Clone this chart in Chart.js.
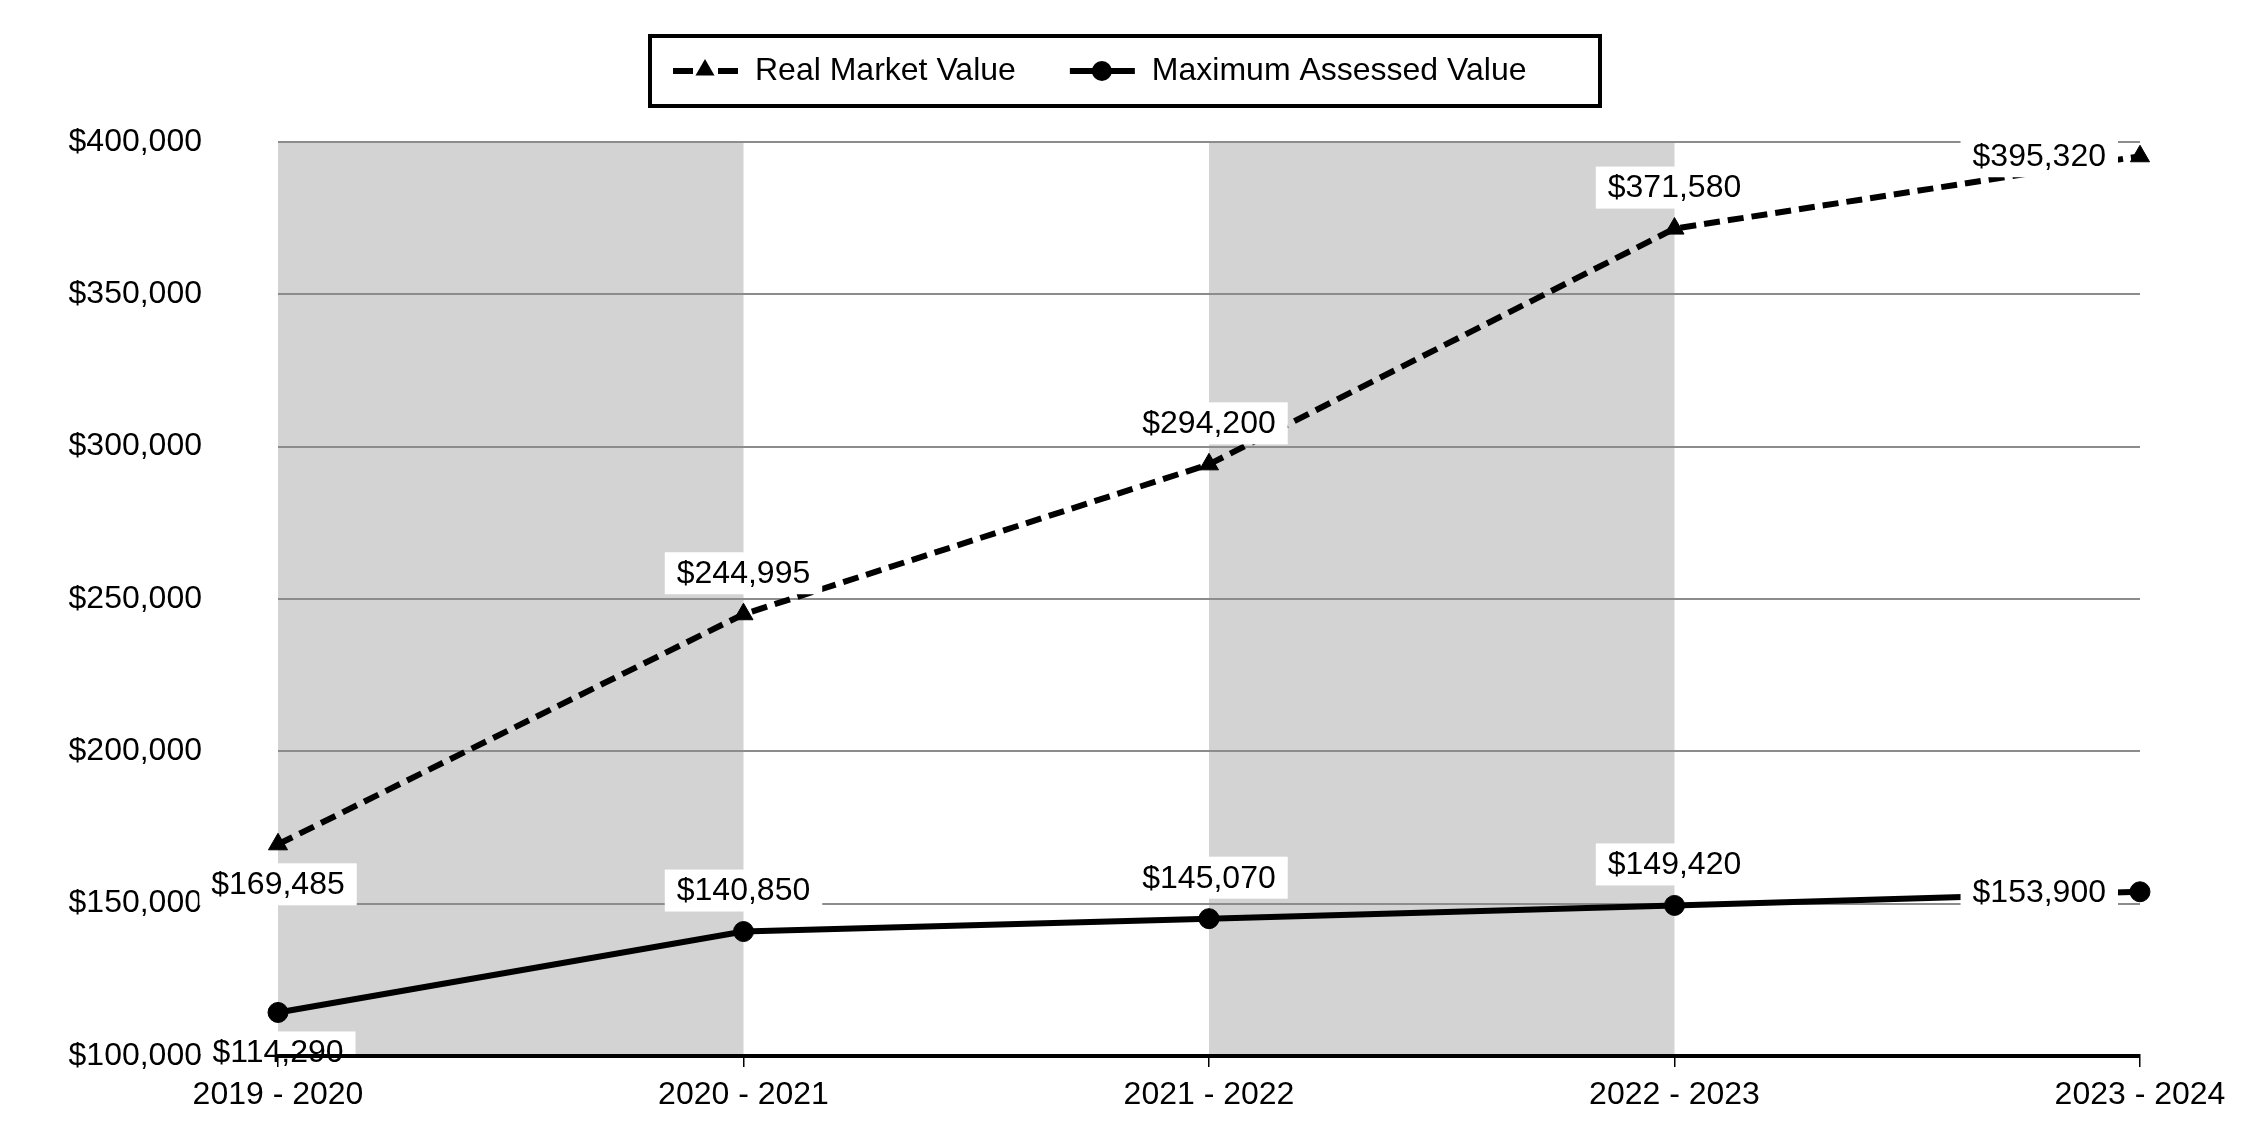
<!DOCTYPE html>
<html lang="en">
<head>
  <meta charset="UTF-8" />
  <title>Real Market Value vs Maximum Assessed Value</title>
  <script src="https://cdn.jsdelivr.net/npm/chart.js"></script>
  <style>
    html, body { margin: 0; padding: 0; background: #fff; }
    #wrap { width: 2250px; height: 1140px; position: relative; }
  </style>
</head>
<body>
<div id="wrap"><canvas id="valueChart"></canvas></div>

<script>
  // --- data ---
  const years = ['2019 - 2020', '2020 - 2021', '2021 - 2022', '2022 - 2023', '2023 - 2024'];
  const realMarketValue = [169485, 244995, 294200, 371580, 395320];
  const maxAssessedValue = [114290, 140850, 145070, 149420, 153900];
  const yTickValues = [100000, 150000, 200000, 250000, 300000, 350000, 400000];

  // where each value label sits relative to its point
  const rmvLabelSide = ['below', 'above', 'above', 'above', 'left'];
  const mavLabelSide = ['below', 'above', 'above', 'above', 'left'];

  const FONT = '"Liberation Sans", Arial, sans-serif';
  Chart.defaults.font.family = FONT;
  Chart.defaults.font.size = 32;
  Chart.defaults.color = '#000';

  const money = v => '$' + v.toLocaleString('en-US');

  // grey band behind every other year interval
  const bandsPlugin = {
    id: 'bands',
    beforeDraw(chart) {
      const { ctx, chartArea, scales: { x } } = chart;
      ctx.save();
      ctx.fillStyle = '#d3d3d3';
      for (let i = 0; i + 1 < years.length; i += 2) {
        const x0 = x.getPixelForValue(i);
        const x1 = x.getPixelForValue(i + 1);
        ctx.fillRect(x0, chartArea.top, x1 - x0, chartArea.bottom - chartArea.top);
      }
      ctx.restore();
    }
  };

  // value labels with white boxes
  const labelSides = [rmvLabelSide, mavLabelSide];
  const valueLabels = {
    id: 'valueLabels',
    afterDatasetsDraw(chart) {
      const { ctx, chartArea } = chart;
      ctx.save();
      ctx.font = '32px ' + FONT;
      ctx.textAlign = 'center';
      ctx.textBaseline = 'middle';
      chart.data.datasets.forEach((ds, di) => {
        const meta = chart.getDatasetMeta(di);
        meta.data.forEach((pt, i) => {
          const text = money(ds.data[i]);
          const w = ctx.measureText(text).width + 24;
          const h = 42;
          let cx = pt.x, cy = pt.y;
          const side = labelSides[di][i];
          if (side === 'above') cy -= 41;
          else if (side === 'below') cy += 40;
          else cx -= 22 + w / 2;
          const top = cy - h / 2;
          const bottom = Math.min(cy + h / 2, chartArea.bottom - 2);
          ctx.fillStyle = '#fff';
          ctx.fillRect(cx - w / 2, top, w, bottom - top);
          ctx.fillStyle = '#000';
          ctx.fillText(text, cx, cy + 1);
        });
      });
      ctx.restore();
    }
  };

  // boxed legend: line sample with marker, then the series name
  function drawMarker(ctx, style, x, y, r) {
    ctx.beginPath();
    if (style === 'triangle') {
      ctx.moveTo(x, y - r);
      ctx.lineTo(x + r * 0.866, y + r * 0.5);
      ctx.lineTo(x - r * 0.866, y + r * 0.5);
      ctx.closePath();
    } else {
      ctx.arc(x, y, r, 0, Math.PI * 2);
    }
    ctx.fill();
  }

  const boxedLegend = {
    id: 'boxedLegend',
    afterDraw(chart) {
      const ctx = chart.ctx;
      const boxL = 650, boxR = 1600, boxT = 36, boxB = 106;
      const midY = 71;
      ctx.save();
      ctx.fillStyle = '#fff';
      ctx.fillRect(boxL, boxT, boxR - boxL, boxB - boxT);
      ctx.strokeStyle = '#000';
      ctx.lineWidth = 4;
      ctx.strokeRect(boxL, boxT, boxR - boxL, boxB - boxT);

      ctx.font = '32px ' + FONT;
      ctx.textBaseline = 'middle';
      ctx.textAlign = 'left';
      let cx = boxL + 23;
      chart.data.datasets.forEach(ds => {
        ctx.fillStyle = '#000';
        if (ds.borderDash && ds.borderDash.length) {
          ctx.fillRect(cx, midY - 3, 20, 6);
          ctx.fillRect(cx + 45, midY - 3, 20, 6);
        } else {
          ctx.fillRect(cx, midY - 3, 65, 6);
        }
        drawMarker(ctx, ds.pointStyle, cx + 32, midY - (ds.pointStyle === 'triangle' ? 1 : 0), ds.pointStyle === 'triangle' ? 11 : 10);
        cx += 65 + 17;
        ctx.fillText(ds.label, cx, midY);
        cx += ctx.measureText(ds.label).width + 54;
      });
      ctx.restore();
    }
  };

  new Chart(document.getElementById('valueChart'), {
    type: 'line',
    data: {
      labels: years,
      datasets: [
        {
          label: 'Real Market Value',
          data: realMarketValue,
          borderColor: '#000',
          backgroundColor: '#000',
          borderWidth: 6,
          borderDash: [16, 8],
          pointStyle: 'triangle',
          pointRadius: 11,
          pointBorderWidth: 1,
          pointBackgroundColor: '#000',
          pointBorderColor: '#000',
          tension: 0,
          fill: false,
          clip: false
        },
        {
          label: 'Maximum Assessed Value',
          data: maxAssessedValue,
          borderColor: '#000',
          backgroundColor: '#000',
          borderWidth: 6,
          pointStyle: 'circle',
          pointRadius: 10,
          pointBorderWidth: 1,
          pointBackgroundColor: '#000',
          pointBorderColor: '#000',
          tension: 0,
          fill: false,
          clip: false
        }
      ]
    },
    options: {
      responsive: true,
      maintainAspectRatio: false,
      animation: false,
      layout: { padding: { left: 0, right: 110, top: 142, bottom: 0 } },
      plugins: {
        legend: { display: false },
        tooltip: { enabled: false }
      },
      scales: {
        x: {
          offset: false,
          afterFit: s => { s.height = 84; },
          grid: { drawOnChartArea: false, drawTicks: true, tickLength: 11, color: '#000', lineWidth: 1.5, z: 1 },
          border: { display: true, color: '#000', width: 4, z: 1 },
          ticks: { padding: 9, maxRotation: 0, autoSkip: false, z: 1 }
        },
        y: {
          min: yTickValues[0],
          max: yTickValues[yTickValues.length - 1],
          afterBuildTicks: s => { s.ticks = yTickValues.map(v => ({ value: v })); },
          afterFit: s => { s.width = 278; },
          // invisible tick marks give the gap between labels and plot
          grid: { color: '#8c8c8c', lineWidth: 2, drawTicks: true, tickLength: 76, tickColor: 'rgba(0,0,0,0)' },
          border: { display: false },
          ticks: { padding: 0, callback: v => money(v) }
        }
      }
    },
    plugins: [bandsPlugin, valueLabels, boxedLegend]
  });
</script>
</body>
</html>
